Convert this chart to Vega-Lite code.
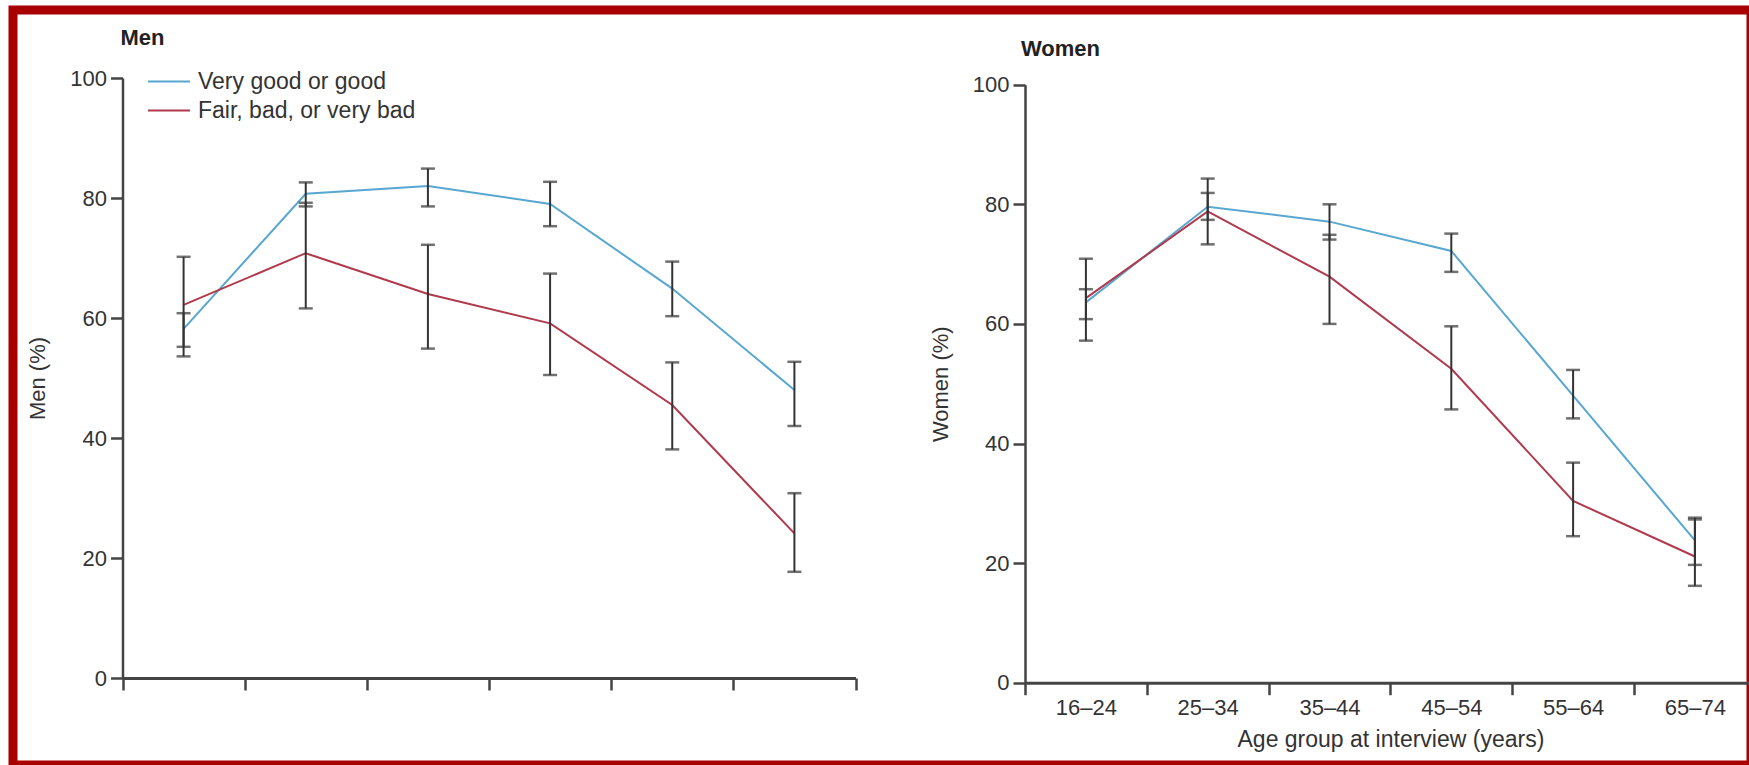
{
  "$schema": "https://vega.github.io/schema/vega-lite/v6.json",
  "width": 1738,
  "height": 755,
  "autosize": {"type": "none"},
  "padding": {"left": 13, "top": 10, "right": 0, "bottom": 0},
  "background": "white",
  "title": {"text": "Women", "anchor": "start", "frame": "group", "orient": "top", "offset": 0, "dx": 1008, "dy": 68, "fontSize": 22, "fontWeight": "bold", "baseline": "alphabetic", "color": "#222222", "font": "Liberation Sans"},
  "config": {
    "view": {"stroke": "#a80000", "strokeWidth": 9, "fill": "white"},
    "font": "Liberation Sans",
    "axis": {"grid": false, "domainColor": "#444444", "tickColor": "#444444", "labelColor": "#333333", "titleColor": "#333333", "labelFont": "Liberation Sans", "titleFont": "Liberation Sans", "titleFontWeight": "normal"},
    "legend": {"padding": 0, "rowPadding": 0, "labelFontSize": 23, "labelColor": "#333333", "labelFont": "Liberation Sans", "symbolType": "M-1.4,0H1.4", "symbolSize": 900, "symbolStrokeWidth": 2.2, "labelOffset": 12.5, "labelLimit": 400}
  },
  "datasets": {
    "men": [
      {"age": "16–24", "series": "Very good or good", "v": 58.2, "lo": 55.2, "hi": 60.8},
      {"age": "16–24", "series": "Fair, bad, or very bad", "v": 62.2, "lo": 53.6, "hi": 70.2},
      {"age": "25–34", "series": "Very good or good", "v": 80.7, "lo": 78.6, "hi": 82.6},
      {"age": "25–34", "series": "Fair, bad, or very bad", "v": 70.8, "lo": 61.6, "hi": 79.2},
      {"age": "35–44", "series": "Very good or good", "v": 82.0, "lo": 78.6, "hi": 84.9},
      {"age": "35–44", "series": "Fair, bad, or very bad", "v": 64.0, "lo": 54.9, "hi": 72.2},
      {"age": "45–54", "series": "Very good or good", "v": 79.0, "lo": 75.3, "hi": 82.7},
      {"age": "45–54", "series": "Fair, bad, or very bad", "v": 59.1, "lo": 50.5, "hi": 67.4},
      {"age": "55–64", "series": "Very good or good", "v": 64.9, "lo": 60.3, "hi": 69.4},
      {"age": "55–64", "series": "Fair, bad, or very bad", "v": 45.5, "lo": 38.1, "hi": 52.6},
      {"age": "65–74", "series": "Very good or good", "v": 48.0, "lo": 42.0, "hi": 52.7},
      {"age": "65–74", "series": "Fair, bad, or very bad", "v": 24.1, "lo": 17.7, "hi": 30.8}
    ],
    "women": [
      {"age": "16–24", "series": "Very good or good", "v": 63.6, "lo": 60.8, "hi": 65.8},
      {"age": "16–24", "series": "Fair, bad, or very bad", "v": 64.3, "lo": 57.2, "hi": 70.9},
      {"age": "25–34", "series": "Very good or good", "v": 79.6, "lo": 77.4, "hi": 81.9},
      {"age": "25–34", "series": "Fair, bad, or very bad", "v": 78.8, "lo": 73.3, "hi": 84.3},
      {"age": "35–44", "series": "Very good or good", "v": 77.1, "lo": 74.1, "hi": 80.0},
      {"age": "35–44", "series": "Fair, bad, or very bad", "v": 67.9, "lo": 60.0, "hi": 74.9},
      {"age": "45–54", "series": "Very good or good", "v": 72.2, "lo": 68.7, "hi": 75.1},
      {"age": "45–54", "series": "Fair, bad, or very bad", "v": 52.5, "lo": 45.7, "hi": 59.6},
      {"age": "55–64", "series": "Very good or good", "v": 48.0, "lo": 44.2, "hi": 52.3},
      {"age": "55–64", "series": "Fair, bad, or very bad", "v": 30.4, "lo": 24.5, "hi": 36.8},
      {"age": "65–74", "series": "Very good or good", "v": 23.8, "lo": 19.7, "hi": 27.6},
      {"age": "65–74", "series": "Fair, bad, or very bad", "v": 21.1, "lo": 16.2, "hi": 27.3}
    ]
  },
  "layer": [
    {
      "data": {"name": "men"},
      "encoding": {
        "x": {"field": "age", "type": "nominal", "sort": null,
              "scale": {"type": "band", "range": [109.5, 842.5], "paddingInner": 0, "paddingOuter": 0},
              "axis": {"orient": "bottom", "offset": -87, "labels": false, "tickBand": "extent", "tickSize": 12, "tickWidth": 2.5, "domainWidth": 3,
                       "title": "Men", "titleX": 107, "titleY": -634, "titleAlign": "left", "titleBaseline": "alphabetic", "titleAngle": 0,
                       "titleFontSize": 22, "titleFontWeight": "bold", "titleColor": "#222222"}}
      },
      "layer": [
        {
          "mark": {"type": "line", "strokeWidth": 2},
          "encoding": {
            "y": {"field": "v", "type": "quantitative",
                  "scale": {"domain": [0, 100], "nice": false, "range": [668, 68]},
                  "axis": {"orient": "left", "offset": -109.5, "values": [0, 20, 40, 60, 80, 100], "tickSize": 12, "tickWidth": 2.5, "domainWidth": 2.5, "labelPadding": 4, "labelFontSize": 22, "title": "Men (%)", "titleFontSize": 22, "titlePadding": 20}},
            "color": {"field": "series", "type": "nominal",
                      "scale": {"domain": ["Very good or good", "Fair, bad, or very bad"], "range": ["#58a7d0", "#b03a4c"]},
                      "legend": {"orient": "none", "legendX": 139.5, "legendY": 55, "title": null}}
          }
        },
        {
          "mark": {"type": "rule", "color": "#333333", "strokeWidth": 2},
          "encoding": {
            "y": {"field": "lo", "type": "quantitative", "scale": {"domain": [0, 100], "nice": false, "range": [668, 68]},
                  "axis": {"orient": "left", "offset": -109.5, "values": [0, 20, 40, 60, 80, 100], "tickSize": 12, "tickWidth": 2.5, "domainWidth": 2.5, "labelPadding": 4, "labelFontSize": 22, "title": "Men (%)", "titleFontSize": 22, "titlePadding": 20}},
            "y2": {"field": "hi"}
          }
        },
        {
          "mark": {"type": "tick", "color": "#333333", "thickness": 2.5, "size": 14},
          "encoding": {
            "y": {"field": "lo", "type": "quantitative", "scale": {"domain": [0, 100], "nice": false, "range": [668, 68]},
                  "axis": {"orient": "left", "offset": -109.5, "values": [0, 20, 40, 60, 80, 100], "tickSize": 12, "tickWidth": 2.5, "domainWidth": 2.5, "labelPadding": 4, "labelFontSize": 22, "title": "Men (%)", "titleFontSize": 22, "titlePadding": 20}}
          }
        },
        {
          "mark": {"type": "tick", "color": "#333333", "thickness": 2.5, "size": 14},
          "encoding": {
            "y": {"field": "hi", "type": "quantitative", "scale": {"domain": [0, 100], "nice": false, "range": [668, 68]},
                  "axis": {"orient": "left", "offset": -109.5, "values": [0, 20, 40, 60, 80, 100], "tickSize": 12, "tickWidth": 2.5, "domainWidth": 2.5, "labelPadding": 4, "labelFontSize": 22, "title": "Men (%)", "titleFontSize": 22, "titlePadding": 20}}
          }
        }
      ]
    },
    {
      "data": {"name": "women"},
      "encoding": {
        "x": {"field": "age", "type": "nominal", "sort": null,
              "scale": {"type": "band", "range": [1012, 1742.8], "paddingInner": 0, "paddingOuter": 0},
              "axis": {"orient": "bottom", "offset": -82.3, "labelAngle": 0, "tickBand": "extent", "tickSize": 12, "tickWidth": 2.5, "domainWidth": 3,
                       "labelFontSize": 22, "labelPadding": 3, "title": "Age group at interview (years)", "titleFontSize": 23, "titlePadding": 10}}
      },
      "layer": [
        {
          "mark": {"type": "line", "strokeWidth": 2},
          "encoding": {
            "y": {"field": "v", "type": "quantitative",
                  "scale": {"domain": [0, 100], "nice": false, "range": [672.7, 74.7]},
                  "axis": {"orient": "left", "offset": -1012, "values": [0, 20, 40, 60, 80, 100], "tickSize": 12, "tickWidth": 2.5, "domainWidth": 2.5, "labelPadding": 4, "labelFontSize": 22, "title": "Women (%)", "titleFontSize": 22, "titlePadding": 20}},
            "color": {"field": "series", "type": "nominal",
                      "scale": {"domain": ["Very good or good", "Fair, bad, or very bad"], "range": ["#58a7d0", "#b03a4c"]},
                      "legend": {"orient": "none", "legendX": 139.5, "legendY": 55, "title": null}}
          }
        },
        {
          "mark": {"type": "rule", "color": "#333333", "strokeWidth": 2},
          "encoding": {
            "y": {"field": "lo", "type": "quantitative", "scale": {"domain": [0, 100], "nice": false, "range": [672.7, 74.7]},
                  "axis": {"orient": "left", "offset": -1012, "values": [0, 20, 40, 60, 80, 100], "tickSize": 12, "tickWidth": 2.5, "domainWidth": 2.5, "labelPadding": 4, "labelFontSize": 22, "title": "Women (%)", "titleFontSize": 22, "titlePadding": 20}},
            "y2": {"field": "hi"}
          }
        },
        {
          "mark": {"type": "tick", "color": "#333333", "thickness": 2.5, "size": 14},
          "encoding": {
            "y": {"field": "lo", "type": "quantitative", "scale": {"domain": [0, 100], "nice": false, "range": [672.7, 74.7]},
                  "axis": {"orient": "left", "offset": -1012, "values": [0, 20, 40, 60, 80, 100], "tickSize": 12, "tickWidth": 2.5, "domainWidth": 2.5, "labelPadding": 4, "labelFontSize": 22, "title": "Women (%)", "titleFontSize": 22, "titlePadding": 20}}
          }
        },
        {
          "mark": {"type": "tick", "color": "#333333", "thickness": 2.5, "size": 14},
          "encoding": {
            "y": {"field": "hi", "type": "quantitative", "scale": {"domain": [0, 100], "nice": false, "range": [672.7, 74.7]},
                  "axis": {"orient": "left", "offset": -1012, "values": [0, 20, 40, 60, 80, 100], "tickSize": 12, "tickWidth": 2.5, "domainWidth": 2.5, "labelPadding": 4, "labelFontSize": 22, "title": "Women (%)", "titleFontSize": 22, "titlePadding": 20}}
          }
        }
      ]
    }
  ],
  "resolve": {"scale": {"x": "independent", "y": "independent"}}
}
